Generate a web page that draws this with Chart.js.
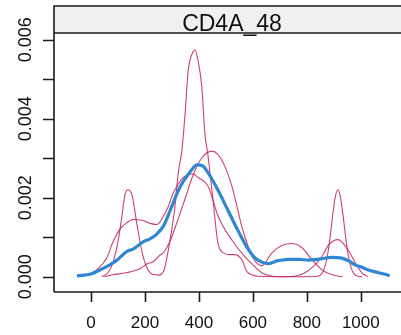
<!DOCTYPE html>
<html>
<head>
<meta charset="utf-8">
<script src="https://cdn.jsdelivr.net/npm/chart.js@4/dist/chart.umd.min.js"></script>
<style>
  html, body { margin: 0; padding: 0; background: #fff; }
  #wrap { width: 401px; height: 335px; }
</style>
</head>
<body>
<div id="wrap"><canvas id="densityChart" width="401" height="335"></canvas></div>
<script>
// panel title and axis ticks
const panelTitle = 'CD4A_48';
const xTicks = [0, 200, 400, 600, 800, 1000];
const yTicks = [0, 0.001, 0.002, 0.003, 0.004, 0.005, 0.006];
const yTickLabels = ['0.000', '', '0.002', '', '0.004', '', '0.006'];

// curve A: sharp peaks near 140, 385, 915
const curveAx = [40, 63, 82, 100, 114, 126, 137, 152, 171, 189, 208, 228, 250, 270, 293, 311, 323, 337, 349, 360, 378, 386, 396, 411, 422, 433, 452, 470, 489, 515, 533, 559, 578, 600, 620, 700, 800, 840, 855, 865, 875, 885, 895, 905, 915, 925, 935, 945, 955, 965, 975, 990, 1005];
const curveAy = [0, 0.0001, 0.00037, 0.00088, 0.0015, 0.00207, 0.0022, 0.00207, 0.0013, 0.00063, 0.00022, 0.00006, 0.00004, 0.00015, 0.00093, 0.00176, 0.0026, 0.0032, 0.00414, 0.0052, 0.00569, 0.00574, 0.0055, 0.0048, 0.00364, 0.0031, 0.00196, 0.00087, 0.00061, 0.00056, 0.00056, 0.00043, 0.00013, 0.00004, 0.00001, 0, 0, 0.00001, 0.00007, 0.00021, 0.00048, 0.00094, 0.00151, 0.002, 0.0022, 0.002, 0.00151, 0.00094, 0.00048, 0.00021, 0.00007, 0.00001, 0];

// curve B: shoulder near 160, peak near 378, small peak near 915
const curveBx = [-35, 0, 22, 59, 81, 107, 133, 156, 189, 219, 244, 267, 285, 304, 341, 376, 400, 435, 472, 522, 571, 608, 633, 660, 700, 760, 793, 822, 855, 880, 915, 952, 979, 1004, 1026];
const curveBy = [0, 0.00008, 0.00018, 0.00048, 0.00087, 0.0012, 0.00137, 0.00145, 0.00143, 0.00135, 0.00132, 0.00151, 0.00175, 0.0021, 0.0025, 0.0026, 0.0025, 0.00228, 0.00152, 0.00093, 0.0005, 0.00025, 0.0001, 0.00003, 0, 0.00002, 0.0001, 0.00025, 0.0005, 0.0008, 0.00094, 0.00069, 0.00036, 0.0001, 0];

// curve C: broad peak near 448, bump near 744
const curveCx = [50, 80, 130, 181, 207, 230, 256, 267, 293, 320, 350, 380, 410, 448, 470, 496, 522, 541, 559, 578, 600, 633, 670, 707, 744, 781, 819, 855, 893, 933];
const curveCy = [0, 0.00005, 0.0001, 0.0002, 0.00032, 0.00038, 0.00055, 0.0006, 0.0009, 0.0014, 0.002, 0.0026, 0.003, 0.00318, 0.0031, 0.0028, 0.0023, 0.00178, 0.00127, 0.00086, 0.00048, 0.00028, 0.0006, 0.00079, 0.00084, 0.00074, 0.00043, 0.00018, 0.00005, 0];

// pooled density (blue)
const pooledX = [-52, 0, 33, 70, 96, 133, 156, 193, 219, 244, 270, 293, 330, 367, 393, 415, 433, 470, 507, 544, 578, 607, 633, 655, 690, 732, 770, 805, 850, 892, 930, 955, 979, 1004, 1028, 1050, 1078, 1101, 1107];
const pooledY = [0.00002, 0.00007, 0.00017, 0.0003, 0.00042, 0.00064, 0.0007, 0.00088, 0.00096, 0.00108, 0.0013, 0.00167, 0.00227, 0.00265, 0.00283, 0.0028, 0.00264, 0.0022, 0.00169, 0.00118, 0.00075, 0.00048, 0.00037, 0.00033, 0.0004, 0.00044, 0.00044, 0.00042, 0.00045, 0.00049, 0.00047, 0.0004, 0.0003, 0.00024, 0.00017, 0.00013, 0.00008, 0.00004, 0.00002];

const crimson = 'rgba(196, 32, 88, 0.85)';
const blue = '#2f87d4';

function toPoints(xs, ys) {
  return xs.map((x, i) => ({ x, y: ys[i] }));
}

const frame = { left: 54, top: 33, stripTop: 6, right: 410, bottom: 292 };

// draws the lattice-style box, strip, ticks and labels
const latticeFrame = {
  id: 'latticeFrame',
  beforeDraw(chart) {
    const { ctx } = chart;
    ctx.save();
    ctx.fillStyle = '#fff';
    ctx.fillRect(0, 0, chart.width, chart.height);
    ctx.restore();
  },
  afterDraw(chart) {
    const { ctx, scales } = chart;
    const xs = scales.x;
    const ys = scales.y;
    ctx.save();
    ctx.strokeStyle = '#1a1a1a';
    ctx.lineWidth = 1.6;

    // strip
    ctx.fillStyle = '#f0f0f0';
    ctx.fillRect(frame.left, frame.stripTop, frame.right - frame.left, frame.top - frame.stripTop);
    ctx.beginPath();
    ctx.moveTo(frame.left, frame.bottom);
    ctx.lineTo(frame.left, frame.stripTop);
    ctx.lineTo(frame.right, frame.stripTop);
    ctx.moveTo(frame.left, frame.top);
    ctx.lineTo(frame.right, frame.top);
    ctx.moveTo(frame.left, frame.bottom);
    ctx.lineTo(frame.right, frame.bottom);
    ctx.stroke();

    ctx.fillStyle = '#111';
    ctx.font = '23px "Liberation Sans", Arial, sans-serif';
    ctx.textAlign = 'center';
    ctx.textBaseline = 'alphabetic';
    ctx.fillText(panelTitle, (frame.left + frame.right) / 2, 30.5);

    // y ticks
    ctx.beginPath();
    yTicks.forEach((v) => {
      const py = Math.round(ys.getPixelForValue(v)) + 0.5;
      ctx.moveTo(frame.left, py);
      ctx.lineTo(frame.left - 11, py);
    });
    // x ticks
    xTicks.forEach((v) => {
      const px = Math.round(xs.getPixelForValue(v)) + 0.5;
      ctx.moveTo(px, frame.bottom);
      ctx.lineTo(px, frame.bottom + 10);
    });
    ctx.stroke();

    // x labels
    ctx.font = '17px "Liberation Sans", Arial, sans-serif';
    ctx.textBaseline = 'middle';
    xTicks.forEach((v) => {
      ctx.fillText(String(v), xs.getPixelForValue(v), 323.5);
    });

    // y labels, rotated
    ctx.font = '18px "Liberation Sans", Arial, sans-serif';
    yTicks.forEach((v, i) => {
      if (!yTickLabels[i]) return;
      ctx.save();
      ctx.translate(26, ys.getPixelForValue(v));
      ctx.rotate(-Math.PI / 2);
      ctx.fillText(yTickLabels[i], 0, 0);
      ctx.restore();
    });
    ctx.restore();
  },
};

const lineStyle = { showLine: true, pointRadius: 0, cubicInterpolationMode: 'monotone', fill: false };

new Chart(document.getElementById('densityChart'), {
  type: 'scatter',
  data: {
    datasets: [
      { label: 'pooled', data: toPoints(pooledX, pooledY), borderColor: blue, borderWidth: 3.2, order: 0, ...lineStyle },
      { label: 'A', data: toPoints(curveAx, curveAy), borderColor: crimson, borderWidth: 1.1, order: 1, ...lineStyle },
      { label: 'B', data: toPoints(curveBx, curveBy), borderColor: crimson, borderWidth: 1.1, order: 1, ...lineStyle },
      { label: 'C', data: toPoints(curveCx, curveCy), borderColor: crimson, borderWidth: 1.1, order: 1, ...lineStyle },
    ],
  },
  options: {
    responsive: false,
    animation: false,
    devicePixelRatio: 1,
    layout: { padding: { left: 54, top: 33, right: 0, bottom: 43 } },
    plugins: { legend: { display: false }, tooltip: { enabled: false } },
    scales: {
      x: { type: 'linear', display: false, min: -137, max: 1149 },
      y: { type: 'linear', display: false, min: -0.000387, max: 0.00617 },
    },
  },
  plugins: [latticeFrame],
});
</script>
</body>
</html>
